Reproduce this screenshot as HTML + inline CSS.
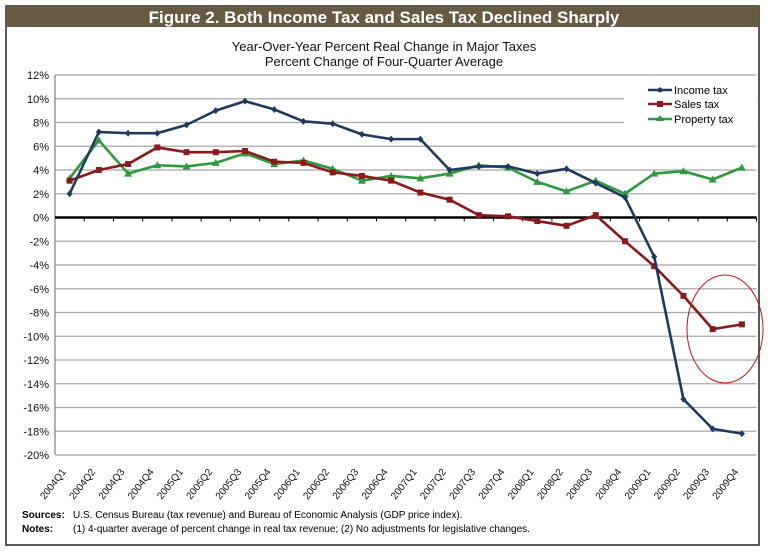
<!DOCTYPE html>
<html><head><meta charset="utf-8"><style>
body{margin:0;background:#fff;width:768px;height:553px;overflow:hidden;font-family:"Liberation Sans",sans-serif}
</style></head><body>
<svg id="chart" width="768" height="553" xmlns="http://www.w3.org/2000/svg" font-family="Liberation Sans, sans-serif">
<rect x="6" y="6" width="753" height="539" fill="#fff" stroke="#222" stroke-width="1.5"/>
<rect x="6" y="6" width="753" height="21" fill="#675a44"/>
<text x="384" y="23" text-anchor="middle" fill="#fff" font-weight="bold" font-size="17">Figure 2. Both Income Tax and Sales Tax Declined Sharply</text>
<text x="384" y="51" text-anchor="middle" font-size="13" fill="#111">Year-Over-Year Percent Real Change in Major Taxes</text>
<text x="384" y="66" text-anchor="middle" font-size="13" fill="#111">Percent Change of Four-Quarter Average</text>
<g id="grid"></g><g id="axes"></g><g id="series"></g>
<g>
<rect x="624" y="76" width="132" height="64" fill="#fff"/>
<line x1="648" y1="90" x2="672" y2="90" stroke="#1f3a5f" stroke-width="2.5"/><circle cx="660" cy="90" r="2.5" fill="#1f3a5f"/>
<text x="674" y="94" font-size="11">Income tax</text>
<line x1="648" y1="104" x2="672" y2="104" stroke="#8b1a1a" stroke-width="2.5"/><rect x="657" y="101" width="6" height="6" fill="#8b1a1a"/>
<text x="674" y="108" font-size="11">Sales tax</text>
<line x1="648" y1="119" x2="672" y2="119" stroke="#2e9a3e" stroke-width="2.5"/><polygon points="660,115 664,121 656,121" fill="#2e9a3e"/>
<text x="674" y="123" font-size="11">Property tax</text>
</g>
<ellipse cx="725" cy="329" rx="38" ry="54" fill="none" stroke="#cc1111" stroke-width="1"/>
<text x="22" y="518" font-size="10" font-weight="bold">Sources:</text>
<text x="73" y="518" font-size="10">U.S. Census Bureau (tax revenue) and Bureau of Economic Analysis (GDP price index).</text>
<text x="22" y="532" font-size="10" font-weight="bold">Notes:</text>
<text x="73" y="532" font-size="10">(1) 4-quarter average of percent change in real tax revenue; (2) No adjustments for legislative changes.</text>
</svg>
<script>
const categories=["2004Q1","2004Q2","2004Q3","2004Q4","2005Q1","2005Q2","2005Q3","2005Q4","2006Q1","2006Q2","2006Q3","2006Q4","2007Q1","2007Q2","2007Q3","2007Q4","2008Q1","2008Q2","2008Q3","2008Q4","2009Q1","2009Q2","2009Q3","2009Q4"];
const incomeTax=[2.0,7.2,7.1,7.1,7.8,9.0,9.8,9.1,8.1,7.9,7.0,6.6,6.6,4.0,4.3,4.3,3.7,4.1,2.9,1.7,-3.3,-15.3,-17.8,-18.2];
const salesTax=[3.1,4.0,4.5,5.9,5.5,5.5,5.6,4.7,4.6,3.8,3.5,3.1,2.1,1.5,0.2,0.1,-0.3,-0.7,0.2,-2.0,-4.1,-6.6,-9.4,-9.0];
const propertyTax=[3.3,6.5,3.7,4.4,4.3,4.6,5.4,4.5,4.8,4.1,3.1,3.5,3.3,3.7,4.4,4.2,3.0,2.2,3.1,2.0,3.7,3.9,3.2,4.2];
const yTicks=[12,10,8,6,4,2,0,-2,-4,-6,-8,-10,-12,-14,-16,-18,-20];
const NS="http://www.w3.org/2000/svg";
const L=55,R=756.5,T=75,B=455,yMax=12,yMin=-20;
const bw=(R-L)/categories.length;
const xS=i=>L+bw*(i+0.5);
const yS=v=>T+(yMax-v)/(yMax-yMin)*(B-T);
function mk(tag,attrs,parent){const e=document.createElementNS(NS,tag);for(const k in attrs)e.setAttribute(k,attrs[k]);parent.appendChild(e);return e;}
const grid=document.getElementById('grid'),axes=document.getElementById('axes'),series=document.getElementById('series');
yTicks.forEach(v=>{
  if(v!==0){const g=mk('line',{x1:L,x2:R,y1:yS(v),y2:yS(v),stroke:'#a8a8a8','stroke-width':1.3},grid);
  
  }
  const t=mk('text',{x:L-6,y:yS(v)+4,'text-anchor':'end','font-size':11,fill:'#111'},axes);
  t.textContent=v+'%';
  
  
});
const ya=mk('line',{x1:L,x2:L,y1:T,y2:B,stroke:'#888','stroke-width':1.3},axes);


const za=mk('line',{x1:L,x2:R,y1:yS(0),y2:yS(0),stroke:'#000','stroke-width':2.5},axes);


categories.forEach((c,i)=>{
  mk('line',{x1:L+bw*(i+1),x2:L+bw*(i+1),y1:yS(0),y2:yS(0)+4,stroke:'#000','stroke-width':1},axes);
  const x=xS(i)-3,y=B+17;
  const t=mk('text',{x:x,y:y,'text-anchor':'end','font-size':10,fill:'#111',transform:`rotate(-52 ${x} ${y})`},axes);
  t.textContent=c;
  
  
});
function draw(vals,color,name,marker){
  const p=mk('polyline',{points:vals.map((v,i)=>xS(i)+','+yS(v)).join(' '),fill:'none',stroke:color,'stroke-width':2.6,'stroke-linejoin':'round'},series);
  
  
  vals.forEach((v,i)=>{
    const x=xS(i),y=yS(v);let m;
    if(marker==='d')m=mk('polygon',{points:`${x},${y-3.5} ${x+3},${y} ${x},${y+3.5} ${x-3},${y}`,fill:color},series);
    else if(marker==='s')m=mk('rect',{x:x-3,y:y-3,width:6,height:6,fill:color},series);
    else m=mk('polygon',{points:`${x},${y-4} ${x+4},${y+3} ${x-4},${y+3}`,fill:color},series);
    
    
  });
}
draw(propertyTax,'#2e9a3e','property-tax','t');
draw(salesTax,'#8b1a1a','sales-tax','s');
draw(incomeTax,'#1f3a5f','income-tax','d');
</script>
</body></html>
